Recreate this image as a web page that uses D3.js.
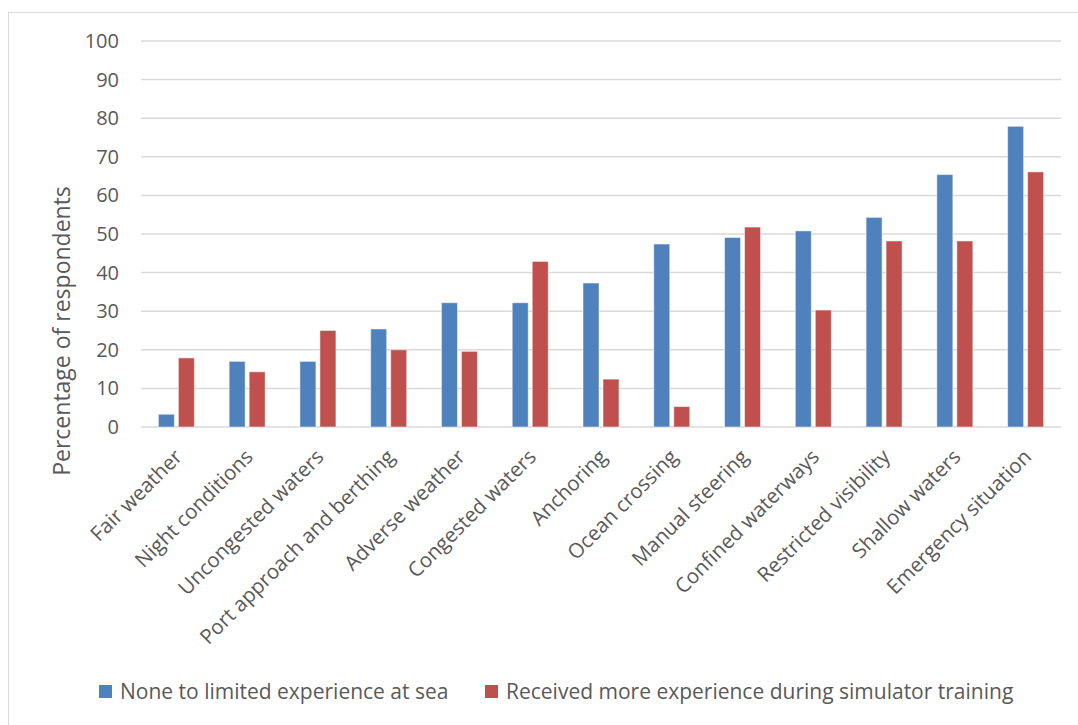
<!DOCTYPE html>
<html>
<head>
<meta charset="utf-8">
<script src="https://cdn.jsdelivr.net/npm/d3@7"></script>
<style>
  body { margin: 0; background: #fff; }
  text { font-family: "Open Sans", sans-serif; fill: #595959; }
</style>
</head>
<body>
<div id="chart"></div>
<script>
const categories = ["Fair weather", "Night conditions", "Uncongested waters", "Port approach and berthing",
  "Adverse weather", "Congested waters", "Anchoring", "Ocean crossing", "Manual steering",
  "Confined waterways", "Restricted visibility", "Shallow waters", "Emergency situation"];
const seriesNames = ["None to limited experience at sea", "Received more experience during simulator training"];
const limitedExperience = [3.3, 17, 17, 25.4, 32.2, 32.2, 37.3, 47.4, 49.1, 50.8, 54.3, 65.4, 77.9];
const simulatorTraining = [17.9, 14.3, 25, 20, 19.6, 42.9, 12.4, 5.3, 51.8, 30.3, 48.2, 48.2, 66.1];
const yTicks = [0, 10, 20, 30, 40, 50, 60, 70, 80, 90, 100];
const colors = ["#4F81BD", "#C0504D"];

const width = 1078, height = 725;
const margin = {top: 41, right: 17, bottom: 298, left: 141};

const svg = d3.select("#chart").append("svg")
  .attr("width", width)
  .attr("height", height);

// outer frame
svg.append("rect")
  .attr("x", 8.5).attr("y", 12.5)
  .attr("width", width).attr("height", height)
  .attr("fill", "none").attr("stroke", "#d9d9d9");

const x0 = d3.scaleBand()
  .domain(categories)
  .range([margin.left, width - margin.right]);

const x1 = d3.scaleBand()
  .domain([0, 1])
  .range([0, 36])
  .paddingInner(0.2);

const y = d3.scaleLinear()
  .domain([0, 100])
  .range([height - margin.bottom, margin.top]);

// gridlines
svg.append("g")
  .selectAll("line")
  .data(yTicks)
  .enter().append("line")
  .attr("x1", margin.left)
  .attr("x2", width - margin.right)
  .attr("y1", d => y(d))
  .attr("y2", d => y(d))
  .attr("stroke", "#d9d9d9")
  .attr("stroke-width", 1.5);

// y axis labels
const yAxis = svg.append("g")
  .attr("transform", `translate(${margin.left - 22},0)`)
  .call(d3.axisLeft(y).tickValues(yTicks).tickSize(0).tickPadding(0));
yAxis.select(".domain").remove();
yAxis.selectAll("text")
  .style("font-size", "20px")
  .style("font-family", "'Open Sans', sans-serif")
  .attr("fill", "#595959");

// y title
svg.append("text")
  .attr("transform", "translate(70,331) rotate(-90)")
  .attr("text-anchor", "middle")
  .style("font-size", "23px")
  .text("Percentage of respondents");

// bars
const rows = categories.map((c, i) => ({cat: c, vals: [limitedExperience[i], simulatorTraining[i]]}));
const groups = svg.append("g")
  .selectAll("g")
  .data(rows)
  .enter().append("g")
  .attr("transform", d => `translate(${x0(d.cat) + x0.bandwidth() / 2 - 18},0)`);

groups.selectAll("rect")
  .data(d => d.vals.map((v, k) => ({k: k, v: v})))
  .enter().append("rect")
  .attr("x", d => x1(d.k))
  .attr("width", x1.bandwidth())
  .attr("y", d => y(d.v))
  .attr("height", d => y(0) - y(d.v))
  .attr("fill", d => colors[d.k])
  .attr("stroke", "#fff")
  .attr("stroke-opacity", 0.5)
  .attr("stroke-width", 1);

// category labels
svg.append("g")
  .selectAll("text")
  .data(categories)
  .enter().append("text")
  .attr("transform", d => `translate(${x0(d) + x0.bandwidth() / 2 + 2},453) rotate(-45)`)
  .attr("text-anchor", "end")
  .attr("dy", "0.35em")
  .style("font-size", "20.5px")
  .text(d => d);

// legend
const legend = svg.append("g").attr("transform", "translate(99,692)");
const legendX = [0, 386];
seriesNames.forEach((name, i) => {
  const g = legend.append("g").attr("transform", `translate(${legendX[i]},0)`);
  g.append("rect")
    .attr("x", 0).attr("y", -7)
    .attr("width", 13).attr("height", 13)
    .attr("fill", colors[i]);
  g.append("text")
    .attr("x", 21)
    .attr("dy", "0.35em")
    .style("font-size", "21px")
    .text(name);
});
</script>
</body>
</html>
